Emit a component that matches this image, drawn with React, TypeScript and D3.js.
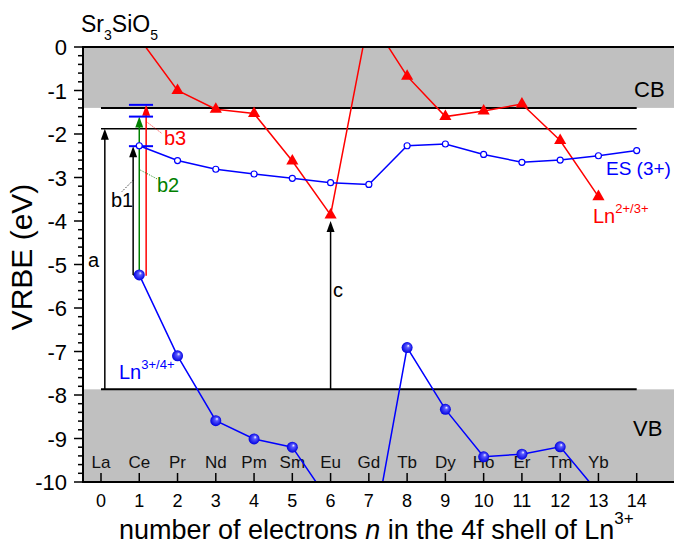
import React from 'react';
import * as d3 from 'd3';

const W = 674;
const H = 545;
const FONT = '"Liberation Sans", Arial, Helvetica, sans-serif';
const RED = '#ff0000';
const BLUE = '#0000ff';
const GREEN = '#008000';
const GRAY = '#c0c0c0';

// lanthanide symbols placed at n = 0..13
const elements = ['La', 'Ce', 'Pr', 'Nd', 'Pm', 'Sm', 'Eu', 'Gd', 'Tb', 'Dy', 'Ho', 'Er', 'Tm', 'Yb'];
const xTicks = [0, 1, 2, 3, 4, 5, 6, 7, 8, 9, 10, 11, 12, 13, 14];
const yTicks = [0, -1, -2, -3, -4, -5, -6, -7, -8, -9, -10];

// Ln2+/3+ ground state levels (red triangles); Ce and Gd lie above the plot
const ln23N = [1, 2, 3, 4, 5, 6, 7, 8, 9, 10, 11, 12, 13];
const ln23E = [0.2, -1.0, -1.43, -1.53, -2.62, -3.86, 0.7, -0.67, -1.6, -1.47, -1.31, -2.15, -3.44];

// ES (3+) excited state levels (open circles)
const esN = [1, 2, 3, 4, 5, 6, 7, 8, 9, 10, 11, 12, 13, 14];
const esE = [-2.27, -2.61, -2.81, -2.92, -3.02, -3.12, -3.16, -2.27, -2.23, -2.47, -2.65, -2.6, -2.5, -2.38];

// Ln3+/4+ ground state levels (blue spheres); Eu, Gd, Yb below the plot
const ln34N = [1, 2, 3, 4, 5, 6, 7, 8, 9, 10, 11, 12, 13];
const ln34E = [-5.24, -7.1, -8.59, -9.01, -9.2, -10.49, -11.75, -6.91, -8.33, -9.42, -9.36, -9.19, -10.25];

// band edges (eV)
const CB_BOTTOM = -1.4;
const GAP_LINE = -1.88;
const VB_TOP = -7.87;

// transitions: n position, start and end energy
const arrows = [
  { id: 'a', n: 0.1, from: VB_TOP, to: GAP_LINE, color: '#000' },
  { id: 'b1', n: 0.84, from: -5.24, to: -2.28, color: '#000' },
  { id: 'b2', n: 1.0, from: -5.24, to: -1.6, color: GREEN },
  { id: 'b3', n: 1.18, from: -5.26, to: -1.33, color: RED },
  { id: 'c', n: 6, from: VB_TOP, to: -4.0, color: '#000' },
];
const barLevels = [-1.33, -1.6, -2.28];
const barSpan = [0.73, 1.36];

// dotted leaders from arrows to their labels: [n1, e1, n2, e2]
const leaders = [
  { pts: [0.844, -3.06, 0.54, -3.33], color: '#000' },
  { pts: [1.03, -2.83, 1.46, -3.03], color: GREEN },
  { pts: [1.19, -1.72, 1.58, -1.98], color: RED },
];

export default function App() {
  const x = d3.scaleLinear().domain([0, 14]).range([101, 636.7]);
  const y = d3.scaleLinear().domain([0, -10]).range([47, 482]);
  const left = 83;
  const right = 690;
  const top = y(0);
  const bottom = y(-10);

  const line = d3.line<[number, number]>().x(d => x(d[0])).y(d => y(d[1]));
  const ln23 = ln23N.map((n, i) => [n, ln23E[i]] as [number, number]);
  const es = esN.map((n, i) => [n, esE[i]] as [number, number]);
  const ln34 = ln34N.map((n, i) => [n, ln34E[i]] as [number, number]);
  const tri = d3.symbol().type(d3.symbolTriangle).size(64)()!;
  const minor = d3.range(0, 51).map(i => -i * 0.2);
  const inside = (e: number) => e <= 0.001 && e >= -10.001;

  const head = (cx: number, tipY: number, color: string, key: string) => (
    <path key={key} d={`M${cx},${tipY} L${cx - 4},${tipY + 11} L${cx + 4},${tipY + 11} Z`} fill={color} />
  );

  return (
    <div style={{ position: 'absolute', left: 0, top: 0 }}>
      <svg width={W} height={H} style={{ display: 'block', fontFamily: FONT }}>
        <defs>
          <clipPath id="plot">
            <rect x={left} y={top} width={right - left} height={bottom - top} />
          </clipPath>
          <radialGradient id="sphere" cx="0.5" cy="0.5" r="0.5" fx="0.62" fy="0.32">
            <stop offset="0" stopColor="#ffffff" />
            <stop offset="0.3" stopColor="#5a5aff" />
            <stop offset="1" stopColor="#0000e0" />
          </radialGradient>
        </defs>

        {/* bands */}
        <rect x={left} y={top} width={right - left} height={y(CB_BOTTOM) - top} fill={GRAY} />
        <rect x={left} y={y(VB_TOP)} width={right - left} height={bottom - y(VB_TOP)} fill={GRAY} />
        <line x1={x(0)} x2={x(14)} y1={y(CB_BOTTOM)} y2={y(CB_BOTTOM)} stroke="#000" strokeWidth={2} />
        <line x1={x(0)} x2={x(14)} y1={y(GAP_LINE)} y2={y(GAP_LINE)} stroke="#000" strokeWidth={1.5} />
        <line x1={x(0)} x2={x(14)} y1={y(VB_TOP)} y2={y(VB_TOP)} stroke="#000" strokeWidth={2} />

        {/* element labels */}
        {elements.map((el, i) => (
          <text key={el} x={x(i)} y={468} fontSize={17} textAnchor="middle" fill="#111">{el}</text>
        ))}

        {/* transitions */}
        {arrows.map(a => (
          <g key={a.id}>
            <line x1={x(a.n)} x2={x(a.n)} y1={y(a.from)} y2={y(a.to) + 6} stroke={a.color} strokeWidth={1.5} />
            {head(x(a.n), y(a.to), a.color, a.id + 'h')}
          </g>
        ))}
        <line x1={x(0.84)} x2={x(1.0)} y1={y(-5.24)} y2={y(-5.24)} stroke="#000" strokeWidth={1.5} />
        {barLevels.map(b => (
          <line key={b} x1={x(barSpan[0])} x2={x(barSpan[1])} y1={y(b)} y2={y(b)} stroke={BLUE} strokeWidth={2} />
        ))}
        {leaders.map((l, i) => (
          <line key={i} x1={x(l.pts[0])} y1={y(l.pts[1])} x2={x(l.pts[2])} y2={y(l.pts[3])}
            stroke={l.color} strokeWidth={1} strokeDasharray="1,1.5" />
        ))}

        {/* series */}
        <g clipPath="url(#plot)">
          <path d={line(ln23)!} fill="none" stroke={RED} strokeWidth={1.5} />
          <path d={line(es)!} fill="none" stroke={BLUE} strokeWidth={1.5} />
          <path d={line(ln34)!} fill="none" stroke={BLUE} strokeWidth={1.5} />
        </g>
        {ln23.filter(d => inside(d[1])).map(d => (
          <path key={'t' + d[0]} d={tri} transform={`translate(${x(d[0])},${y(d[1])})`} fill={RED} />
        ))}
        {es.filter(d => inside(d[1])).map(d => (
          <circle key={'o' + d[0]} cx={x(d[0])} cy={y(d[1])} r={3} fill="#fff" stroke={BLUE} strokeWidth={1.2} />
        ))}
        {ln34.filter(d => inside(d[1])).map(d => (
          <circle key={'s' + d[0]} cx={x(d[0])} cy={y(d[1])} r={5.5} fill="url(#sphere)" />
        ))}

        {/* axes */}
        <line x1={left} x2={right} y1={top} y2={top} stroke="#000" strokeWidth={2} />
        <line x1={left} x2={right} y1={bottom} y2={bottom} stroke="#000" strokeWidth={2} />
        <line x1={left} x2={left} y1={top - 1} y2={bottom + 1} stroke="#000" strokeWidth={2} />
        {minor.map(v => (
          <line key={v} x1={left - (Math.abs(v - Math.round(v)) < 0.01 ? 9 : 5)} x2={left} y1={y(v)} y2={y(v)}
            stroke="#000" strokeWidth={1.5} />
        ))}
        {yTicks.map(v => (
          <text key={v} x={67} y={y(v) + 8} fontSize={22} textAnchor="end">{v}</text>
        ))}
        {xTicks.map(v => (
          <g key={v}>
            <line x1={x(v)} x2={x(v)} y1={bottom - 9} y2={bottom} stroke="#000" strokeWidth={1.5} />
            <text x={x(v)} y={507} fontSize={18} textAnchor="middle">{v}</text>
          </g>
        ))}

        {/* labels */}
        <text x={81} y={32} fontSize={23}>Sr<tspan fontSize={14} dy={8}>3</tspan><tspan dy={-8}>SiO</tspan><tspan fontSize={14} dy={8}>5</tspan></text>
        <text x={634} y={97} fontSize={22}>CB</text>
        <text x={633} y={436} fontSize={22}>VB</text>
        <text x={606} y={175} fontSize={19} fill={BLUE}>ES (3+)</text>
        <text x={593} y={223} fontSize={20} fill={RED}>Ln<tspan fontSize={13} dy={-10}>2+/3+</tspan></text>
        <text x={119} y={379} fontSize={20} fill={BLUE}>Ln<tspan fontSize={13} dy={-10}>3+/4+</tspan></text>
        <text x={88} y={267} fontSize={20}>a</text>
        <text x={333} y={297} fontSize={20}>c</text>
        <text x={111} y={207} fontSize={20}>b1</text>
        <text x={157} y={192} fontSize={20} fill={GREEN}>b2</text>
        <text x={164} y={145} fontSize={20} fill={RED}>b3</text>

        <text transform="translate(32,257) rotate(-90)" fontSize={30} textAnchor="middle">VRBE (eV)</text>
        <text x={119} y={539} fontSize={27}>number of electrons <tspan fontStyle="italic">n</tspan> in the 4f shell of Ln<tspan fontSize={17} dy={-15}>3+</tspan></text>
      </svg>
    </div>
  );
}
